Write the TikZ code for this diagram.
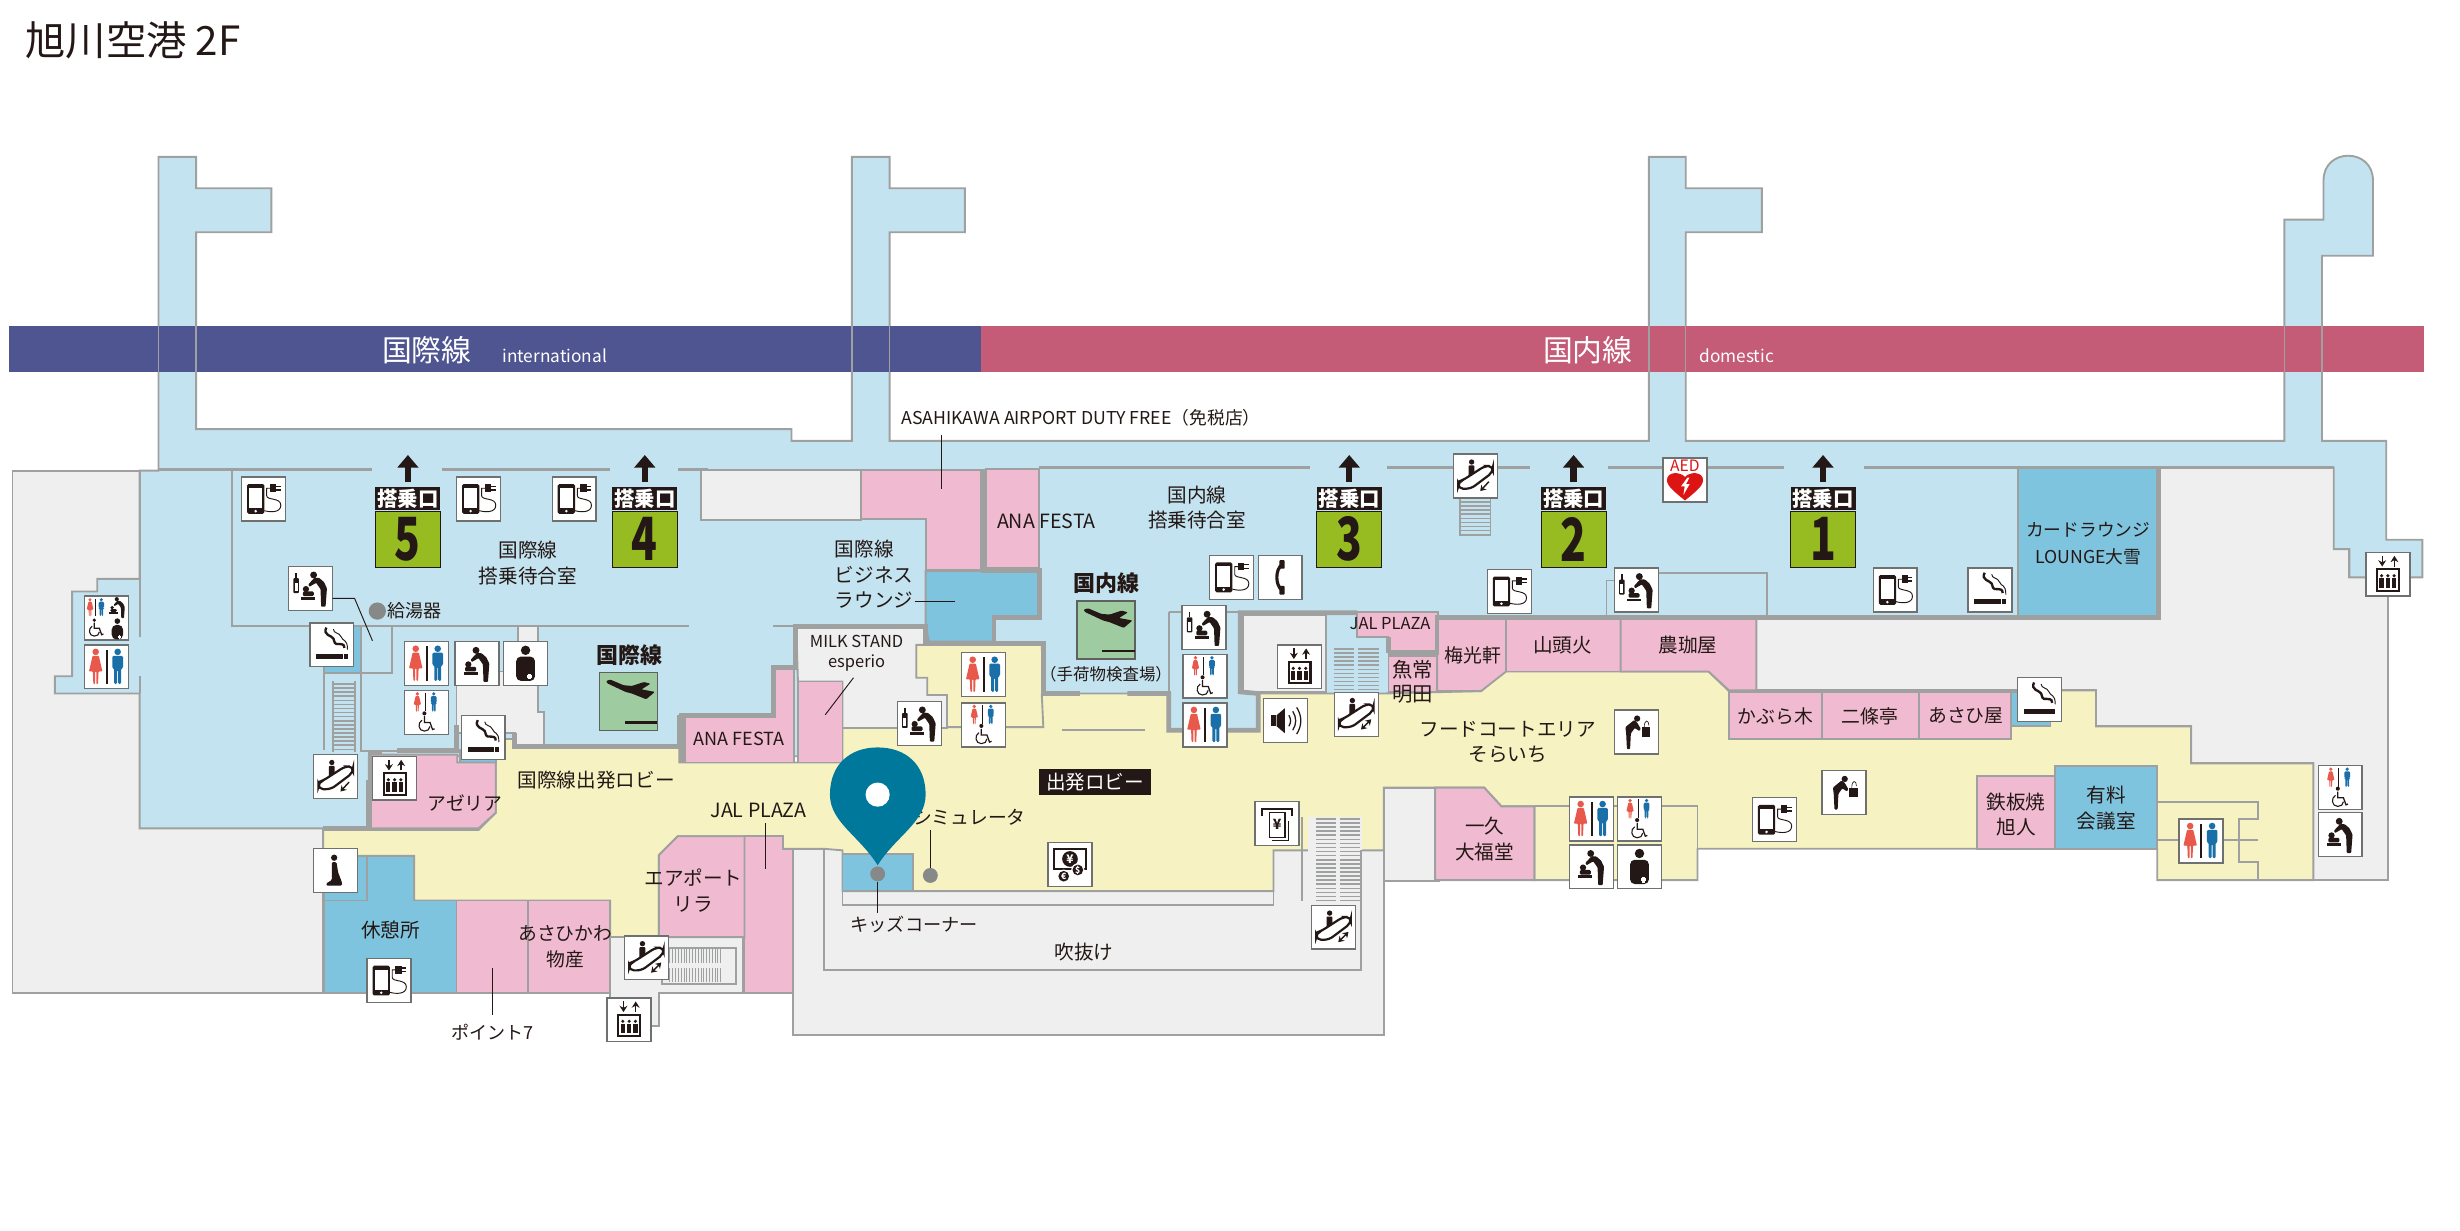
\documentclass[tikz,border=0pt]{standalone}
\usepackage{fontspec}
\setmainfont{Noto Sans CJK JP}
\usetikzlibrary{arrows.meta,positioning}

\definecolor{ink}{HTML}{231815}
\definecolor{wallgray}{HTML}{9FA0A0}
\definecolor{hallblue}{HTML}{C4E3F0}
\definecolor{loungeblue}{HTML}{7FC4DE}
\definecolor{shoppink}{HTML}{F0BBD0}
\definecolor{lobbyyellow}{HTML}{F7F2C2}
\definecolor{voidgray}{HTML}{EFEFEF}
\definecolor{intlnavy}{HTML}{4F5590}
\definecolor{domrose}{HTML}{C45C77}
\definecolor{gategreen}{HTML}{96BC22}
\definecolor{planegreen}{HTML}{9FCBA1}
\definecolor{pinteal}{HTML}{00789C}
\definecolor{wcred}{HTML}{E8594C}
\definecolor{wcblue}{HTML}{1A6FA8}
\definecolor{aedred}{HTML}{DC1414}

\newcommand{\stairsh}[4]{%
	\pgfmathsetmacro{\stepnext}{#2+2.6}
	\foreach \s in {#2,\stepnext,...,#4}
	\draw[rung] (#1,\s) -- (#3,\s);
}
\newcommand{\stairsv}[4]{%
	\pgfmathsetmacro{\stepnext}{#1+1.8}
	\foreach \s in {#1,\stepnext,...,#3}
	\draw[thinrung] (\s,#2) -- (\s,#4);
}

\tikzset{
	room/.style={draw=wallgray,line width=1.2pt,line join=miter},
	wallthin/.style={draw=wallgray,line width=1.2pt},
	wallthick/.style={draw=wallgray,line width=3pt},
	wallmid/.style={draw=wallgray,line width=2pt},
	leader/.style={draw=ink,line width=.6pt},
	rung/.style={draw=wallgray,line width=1pt},
	thinrung/.style={draw=wallgray,line width=.6pt},
	lbl/.style={font=\fontsize{12.5}{16.5}\selectfont,align=center,inner sep=0pt,text=ink},
	lblsmall/.style={lbl,font=\fontsize{11}{13}\selectfont},
	bandlbl/.style={lbl,font=\fontsize{19}{20}\selectfont,text=white},
	bandsub/.style={lbl,font=\fontsize{11}{12}\selectfont,text=white,anchor=west},
	iconbox/.style={draw=wallgray!70!black,line width=.9pt,fill=white,minimum width=28pt,minimum height=28pt,inner sep=0pt},
	gatehead/.style={fill=ink,text=white,minimum width=41.5pt,minimum height=15pt,inner sep=0pt,font=\fontsize{13}{13}\selectfont\bfseries},
	gatebody/.style={fill=gategreen,draw=ink,line width=.5pt,text=ink,minimum width=41.5pt,minimum height=36pt,inner sep=0pt,font=\fontsize{33}{33}\selectfont\bfseries},
	gatearrow/.style={line width=4pt,ink,-{Triangle[length=8pt,width=13pt]}},
	planebox/.style={fill=planegreen,draw=wallgray!60!black,line width=.8pt,minimum width=37pt,minimum height=37pt,inner sep=0pt},
	% figures
	manfig/.pic={
		\fill (0,-9.5) circle[radius=2.1];
		\fill[rounded corners=.8] (-3.4,-7) -- (3.4,-7) -- (3.4,1) -- (2.2,1) -- (2.2,11) -- (.3,11) -- (.3,2) -- (-.3,2) -- (-.3,11) -- (-2.2,11) -- (-2.2,1) -- (-3.4,1) -- cycle;
	},
	womanfig/.pic={
		\fill (0,-9.5) circle[radius=2.1];
		\fill[rounded corners=.5] (-2,-7) -- (2,-7) -- (4.3,3) -- (1.8,3) -- (1.5,11) -- (.4,11) -- (.4,3) -- (-.4,3) -- (-.4,11) -- (-1.5,11) -- (-1.8,3) -- (-4.3,3) -- cycle;
	},
	wheelfig/.pic={
		\fill[ink] (-1,-5.8) circle[radius=1.3];
		\draw[ink,line width=.8pt] (-1,-4) -- (-1,0) -- (2.6,0) -- (4.2,4.5) -- (5.5,4);
		\draw[ink,line width=.7pt] (-2.5,-1.5) .. controls (-5.5,0) and (-5,5.5) .. (-1,5.5) .. controls (1,5.5) and (2.3,4.5) .. (2.6,2.5);
	},
	babyfig/.pic={
		\fill[ink] (-.6,-8.5) circle[radius=2.2];
		\fill[ink,rounded corners=.5] (0,-6.8) -- (-4,-2.5) -- (-3.3,-1) -- (1,-3.5) -- (3.8,.5) -- (4.2,11.7) -- (7,11.7) -- (7.9,0) -- (6,-4) -- (3,-6.6) -- cycle;
		\fill[ink] (-5.5,.5) circle[radius=2];
		\fill[ink,rounded corners=.8] (-7.5,2) rectangle (-.5,5);
		\fill[ink] (-8.5,5.5) rectangle (.5,7.2);
	},
	nursefig/.pic={
		\fill[ink] (0,-8.5) circle[radius=3];
		\fill[ink,rounded corners=3] (-6,11) -- (-6,-4.5) -- (6,-4.5) -- (6,11) -- cycle;
		\fill[white] (1.7,6.3) rectangle (3.3,10);
		\fill[white] (.7,7.4) rectangle (4.3,8.9);
	},
	% icons
	chargeicon/.pic={
		\node[iconbox] (-box) at (0,0) {};
		\fill[ink,rounded corners=1] (-10.5,-9.5) rectangle (.5,9.5);
		\fill[white] (-9.2,-7) rectangle (-.8,6);
		\fill[white] (-5,7.8) circle[radius=.9];
		\fill[ink] (4,-9.2) rectangle (8,-4.4);
		\fill[ink] (8,-8.4) rectangle (11,-7.6);
		\fill[ink] (8,-6) rectangle (11,-5.2);
		\draw[ink,line width=.6pt] (4.5,-6.8) -- (2,-6.8) -- (2,-2) .. controls (2,1) and (11,-1) .. (11,4) .. controls (11,9) and (4,8.5) .. (.5,7.5);
	},
	babyicon/.pic={
		\node[iconbox] (-box) at (0,0) {};
		\pic at (0,0) {babyfig};
	},
	bottleicon/.pic={
		\node[iconbox] (-box) at (0,0) {};
		\pic at (2.5,0) {babyfig};
		\fill[ink,rounded corners=.5] (-11,-6.5) rectangle (-7.5,3);
		\fill[white] (-10.2,-3.5) rectangle (-8.3,2);
		\fill[ink] (-9.8,-10) rectangle (-8.7,-6.5);
	},
	smokeicon/.pic={
		\node[iconbox] (-box) at (0,0) {};
		\fill[ink] (-10,6) rectangle (7,9.2);
		\fill[ink] (7.6,6) rectangle (10,9.2);
		\draw[ink,line width=1.5pt] (-3.5,-11) .. controls (-6,-6) and (0,-6) .. (1,-4) .. controls (2,-2) and (1,0) .. (5,-.5) .. controls (8,-.5) and (8,1) .. (8,2);
		\draw[ink,line width=.6pt] (1,-10) .. controls (1,-7) and (5,-8) .. (6,-5) .. controls (7,-2) and (10,-4) .. (10,3);
	},
	wcicon/.pic={
		\node[iconbox] (-box) at (0,0) {};
		\pic[wcred] at (-7,0) {womanfig};
		\pic[wcblue] at (7,0) {manfig};
		\fill[ink] (-.7,-11) rectangle (.7,11);
	},
	wheelwcicon/.pic={
		\node[iconbox] (-box) at (0,0) {};
		\pic[wcred,scale=.55] at (-6,-6.5) {womanfig};
		\pic[wcblue,scale=.55] at (4.5,-6.5) {manfig};
		\fill[ink] (-1.2,-12.5) rectangle (-.6,-.5);
		\pic at (-.5,6.5) {wheelfig};
	},
	comboicon/.pic={
		\node[iconbox] (-box) at (0,0) {};
		\pic[wcred,scale=.5] at (-10.6,-7) {womanfig};
		\pic[wcblue,scale=.5] at (-3.4,-7) {manfig};
		\fill[ink] (-7.3,-12.5) rectangle (-6.7,-1.5);
		\pic[scale=.6] at (6.8,-7) {babyfig};
		\pic[scale=.9] at (-7,6.5) {wheelfig};
		\pic[scale=.6] at (6.8,7) {nursefig};
	},
	nurseicon/.pic={
		\node[iconbox] (-box) at (0,0) {};
		\pic at (0,0) {nursefig};
	},
	escfig/.pic={
		\fill[ink] (-2.5,-9) circle[radius=1.7];
		\fill[ink,rounded corners=.5] (-4.4,-6.8) -- (-.7,-6.8) -- (-.7,-2) -- (-4.4,.3) -- cycle;
		\draw[ink,line width=1.4pt,rounded corners=3] (-8,2.5) -- (6,-6.5) -- (11,-6.5) -- (11,-2.5) -- (-3,8) -- (-11,8) -- (-11,3.5) -- cycle;
	},
	escdownicon/.pic={
		\node[iconbox] (-box) at (0,0) {};
		\pic at (0,0) {escfig};
		\draw[ink,line width=.9pt,-{Stealth[length=3.5pt,width=4.5pt]}] (8.5,3.5) -- (3,9.5);
	},
	escbothicon/.pic={
		\node[iconbox] (-box) at (0,0) {};
		\pic at (0,0) {escfig};
		\draw[ink,line width=.9pt,{Stealth[length=3.5pt,width=4.5pt]}-{Stealth[length=3.5pt,width=4.5pt]}] (9.5,3) -- (3,9.5);
	},
	lifticon/.pic={
		\node[iconbox] (-box) at (0,0) {};
		\draw[ink,line width=.9pt,-{Stealth[length=4pt,width=5pt]}] (-3.6,-11.7) -- (-3.6,-4.9);
		\draw[ink,line width=.9pt,-{Stealth[length=4pt,width=5pt]}] (4.2,-4.9) -- (4.2,-11.7);
		\draw[ink,line width=1.3pt] (-7,-3.2) rectangle (7,10.6);
		\foreach \p in {-4,0,4} {
			\fill[ink] (\p,1) circle[radius=1.1];
			\fill[ink] (\p-1.4,2.4) rectangle (\p+1.4,8.5);
		}
	},
	prayicon/.pic={
		\node[iconbox] (-box) at (0,0) {};
		\fill[ink] (-1,-8.3) circle[radius=2];
		\fill[ink,rounded corners=.8] (-2.5,-5.5) -- (.5,-5.5) -- (1.5,1) -- (4,7.5) -- (4,9.5) -- (-6,9.5) -- (-6,8) -- (-2.5,6) -- (-2.5,1) -- cycle;
	},
	phoneicon/.pic={
		\node[iconbox] (-box) at (0,0) {};
		\draw[ink,line width=2pt] (1,-8) .. controls (-3.2,-5) and (-3.2,5) .. (1,8);
		\fill[ink,rounded corners=.5] (-.5,-11) rectangle (2.8,-5.5);
		\fill[ink,rounded corners=.5] (-.5,5.5) rectangle (2.8,11);
	},
	speakericon/.pic={
		\node[iconbox] (-box) at (0,0) {};
		\fill[ink] (-9.5,-3.5) rectangle (-6.5,3.5);
		\fill[ink] (-5.8,-3.5) -- (-.5,-8) -- (-.5,8) -- (-5.8,3.5) -- cycle;
		\draw[ink,line width=.8pt] (2,-3.5) .. controls (3.5,-1) and (3.5,1) .. (2,3.5);
		\draw[ink,line width=.8pt] (4.5,-6) .. controls (7,-2) and (7,2) .. (4.5,6);
		\draw[ink,line width=.8pt] (7,-8.5) .. controls (10.5,-3) and (10.5,3) .. (7,8.5);
	},
	atmicon/.pic={
		\node[iconbox] (-box) at (0,0) {};
		\draw[ink,line width=1.4pt] (-9.5,-5) -- (-9.5,-9.5) -- (9.5,-9.5) -- (9.5,-5);
		\draw[ink,line width=.9pt,fill=white] (-5,-7) rectangle (5,9);
		\draw[ink,line width=.7pt] (-3.5,11) -- (7,11) -- (7,-2);
		\node[inner sep=0pt,font=\fontsize{9}{9}\selectfont\bfseries,text=ink] (-yen) at (0,0.5) {¥};
	},
	exchangeicon/.pic={
		\node[iconbox] (-box) at (0,0) {};
		\draw[ink,line width=1.1pt] (-10,-10) rectangle (10,3);
		\fill[ink] (0,-3.5) circle[radius=5];
		\node[inner sep=0pt,font=\fontsize{7.5}{7.5}\selectfont\bfseries,text=white] (-yen) at (0,-3.5) {¥};
		\fill[white] (5,3.5) circle[radius=4.2];
		\fill[ink] (5,3.5) circle[radius=3.4];
		\node[inner sep=0pt,font=\fontsize{5.5}{5.5}\selectfont\bfseries,text=white] (-usd) at (5,3.5) {\$};
		\fill[white] (-4,7.5) circle[radius=4.2];
		\fill[ink] (-4,7.5) circle[radius=3.4];
		\node[inner sep=0pt,font=\fontsize{5.5}{5.5}\selectfont\bfseries,text=white] (-eur) at (-4,7.5) {€};
	},
	fountainicon/.pic={
		\node[iconbox] (-box) at (0,0) {};
		\fill[ink] (.5,-8.5) circle[radius=2];
		\fill[ink,rounded corners=.6] (-1.5,-7.5) -- (-7,-3) -- (-6.5,1) -- (-6,11) -- (-4,11) -- (-3.5,1) -- (-1,-2.5) -- (2,-.5) -- (2.8,-2) -- (.5,-6) -- cycle;
		\fill[ink] (3.5,-3) rectangle (9,3);
		\draw[ink,line width=.4pt] (5,-3) .. controls (5,-8) and (8,-8) .. (8,-4);
	},
	aedicon/.pic={
		\node[iconbox] (-box) at (0,0) {};
		\node[inner sep=0pt,font=\fontsize{10}{10}\selectfont,text=aedred] (-txt) at (0,-9) {AED};
		\fill[aedred] (0,13) .. controls (-6,8) and (-11.5,4) .. (-11.5,0) .. controls (-11.5,-5.5) and (-3,-5.5) .. (0,-2) .. controls (3,-5.5) and (11.5,-5.5) .. (11.5,0) .. controls (11.5,4) and (6,8) .. (0,13) -- cycle;
		\fill[white] (1.5,-1.5) -- (-2.5,4) -- (-.2,4) -- (-1,9.5) -- (3,2.5) -- (.7,2.5) -- (2.8,-1.5) -- cycle;
	},
	planefig/.pic={
		\fill[ink,rounded corners=.6] (-14.2,-13) -- (-11.5,-13.8) -- (-3,-10.2) -- (2.3,-9.8) -- (9.8,-12.3) -- (14,-11.2) -- (8.3,-7.6) -- (16.8,-6) -- (11.3,-1.3) -- (2.3,-4.9) -- (-1.9,-6) -- (-13.6,-11.5) -- cycle;
		\fill[ink] (-2.3,12.6) rectangle (18.3,14.2);
	}
}

\begin{document}
\begin{tikzpicture}[x=1pt,y=-1pt]
	\useasboundingbox (0,0) rectangle (1568,784);

	% title
	\node[lbl,font=\fontsize{25.7}{26}\selectfont,anchor=west] (title) at (16,26) {旭川空港 2F};

	% outer grey parts of the building
	\draw[room,fill=voidgray] (8,300) -- (89,300) -- (89,528) -- (206,528) -- (206,633) -- (8,633) -- cycle;
	\draw[room,fill=voidgray] (505.5,541) -- (882,541) -- (882,659.5) -- (505.5,659.5) -- cycle;
	\draw[room,fill=voidgray] (1376,298) -- (1487.5,298) -- (1487.5,350) -- (1497.5,350) -- (1497.5,368) -- (1522,368) -- (1522,561) -- (1474.5,561) -- (1474.5,486.6) -- (1396.6,486.6) -- (1396.6,463) -- (1336,463) -- (1336,440) -- (1119.5,440) -- (1119.5,393) -- (1376,393) -- cycle;

	% concourse with the four piers
	\draw[room,fill=hallblue] (101,100) -- (125,100) -- (125,120) -- (173,120) -- (173,148) -- (125,148) -- (125,273.5) -- (504.5,273.5) -- (504.5,281) -- (543,281) -- (543,100) -- (567,100) -- (567,120) -- (615,120) -- (615,148) -- (567,148) -- (567,281) -- (1051,281) -- (1051,100) -- (1074.5,100) -- (1074.5,120) -- (1123,120) -- (1123,148) -- (1074.5,148) -- (1074.5,281) -- (1456,281) -- (1456,140) -- (1481,140) -- (1481,115) .. controls (1481,94) and (1512.5,94) .. (1512.5,115) -- (1512.5,163) -- (1480,163) -- (1480,281) -- (1521,281) -- (1521,344) -- (1544,344) -- (1544,368) -- (1497.5,368) -- (1497.5,350) -- (1487.5,350) -- (1487.5,298) -- (1376,298) -- (1376,393) -- (916,393) -- (916,482) -- (235,482) -- (235,528) -- (89,528) -- (89,442) -- (35,442) -- (35,431) -- (46,431) -- (46,377) -- (62,377) -- (62,369) -- (89,369) -- (89,300) -- (101,300) -- cycle;

	% bands
	\fill[intlnavy] (6,208) rectangle (625,237);
	\fill[domrose] (625,208) rectangle (1545,237);
	\foreach \x in {101,125,543,567,1051,1074.5,1456,1480}
	\draw[wallthin,line width=.8pt] (\x,208) -- (\x,237);
	\node[bandlbl] (intlband) at (272,223) {国際線};
	\node[bandsub] (intlsub) at (320,226.5) {international};
	\node[bandlbl] (domband) at (1012,223) {国内線};
	\node[bandsub] (domsub) at (1083,226.5) {domestic};

	% lobby
	\draw[room,fill=lobbyyellow] (206,529) -- (305,529) -- (316,518) -- (316,471) -- (327,471) -- (327,476) -- (433,476) -- (433,486) -- (537,486) -- (537,464) -- (584,464) -- (584,411) -- (664,411) -- (665,442) -- (745,442) -- (745,465.5) -- (802,465.5) -- (802,442) -- (883,442) -- (944,440.5) -- (959,428) -- (1089,428) -- (1102,440.5) -- (1336,440) -- (1336,463) -- (1396.6,463) -- (1396.6,486.6) -- (1474.5,486.6) -- (1474.5,561) -- (1375,561) -- (1375,541) -- (1082,541) -- (1082,561) -- (978,561) -- (978,514) -- (957,514) -- (946,502) -- (882,502) -- (882,542) -- (811.7,542) -- (811.7,568) -- (537,568) -- (537,542) -- (525,541) -- (499,541) -- (499,533) -- (432,533) -- (420,545) -- (420,597.3) -- (389,597.3) -- (389,574) -- (264,574) -- (264,545.5) -- (206,545.5) -- cycle;
	\draw[room,fill=lobbyyellow] (235,480) rectangle (243,497);

	% grey rooms
	\draw[room,fill=voidgray] (882,502) rectangle (917,561.5);
	\draw[room,fill=voidgray] (792,392) rectangle (845,441);
	\draw[room,fill=voidgray] (330,399) -- (343,399) -- (343,454) -- (347,454) -- (347,476) -- (328,476) -- (328,467) -- (291,467) -- (291,428) -- (330,428) -- cycle;
	\draw[room,fill=voidgray] (507.5,399) -- (590,399) -- (590,411) -- (584,411) -- (584,432) -- (591,432) -- (591,443) -- (603.6,443) -- (603.6,464) -- (537,464) -- (537,434.4) -- (508.6,434.4) -- cycle;
	\draw[room,fill=voidgray] (447,299.5) rectangle (549,331.4);
	\draw[room,fill=voidgray] (389,597.3) -- (473.5,597.3) -- (473.5,633) -- (420,633) -- (420,654) -- (389,654) -- cycle;
	\fill[voidgray] (834,521) rectangle (868,577);

	% lounges
	\draw[room,fill=loungeblue] (1286,298) rectangle (1376,393);
	\draw[room,fill=loungeblue] (590,364) -- (662,364) -- (662,393) -- (633.5,393) -- (633.5,409) -- (592,409) -- (590,398) -- cycle;
	\draw[room,fill=loungeblue] (537,544.4) rectangle (582,568);
	\draw[room,fill=loungeblue] (206.5,545.5) -- (264,545.5) -- (264,574) -- (291,574) -- (291,633) -- (206.5,633) -- cycle;
	\draw[room,fill=loungeblue] (1310,488) rectangle (1375,541);
	\draw[room,fill=loungeblue] (1282,441) rectangle (1307,463);
	\draw[room,fill=loungeblue] (293,478) rectangle (316,486);
	\draw[room,fill=loungeblue] (206.5,399) rectangle (230,429);
	\draw[wallthin] (234,545.5) -- (234,574) -- (206.5,574);

	% shops
	\draw[room,fill=shoppink] (548.6,299.4) -- (625,299.4) -- (625,363) -- (590,363) -- (590,331) -- (548.6,331) -- cycle;
	\draw[room,fill=shoppink] (628.5,299) rectangle (662.5,362);
	\draw[room,fill=shoppink] (436.6,457) -- (493,457) -- (493,426.6) -- (506,426.6) -- (506,486) -- (436.6,486) -- cycle;
	\draw[room,fill=shoppink] (508.6,434.4) rectangle (537,486);
	\draw[room,fill=shoppink] (236.5,481) -- (291.5,481) -- (291.5,486) -- (316,486) -- (316,518) -- (305,528) -- (236.5,528) -- cycle;
	\draw[room,fill=shoppink] (474.5,533) -- (499,533) -- (499,541) -- (505.5,541) -- (505.5,633) -- (474.5,633) -- cycle;
	\draw[room,fill=shoppink] (420,545) -- (432,533) -- (474.5,533) -- (474.5,597.3) -- (420,597.3) -- cycle;
	\draw[room,fill=shoppink] (291,574) rectangle (336.5,633);
	\draw[room,fill=shoppink] (336.5,574) rectangle (389,633);
	\draw[room,fill=shoppink] (865,390) -- (916.6,390) -- (916.6,415) -- (885,415) -- (885,406) -- (865,406) -- cycle;
	\draw[room,fill=shoppink] (885,418) rectangle (916,441);
	\draw[room,fill=shoppink] (916,394) -- (960,394) -- (960,428) -- (944,440.5) -- (916,440.5) -- cycle;
	\draw[room,fill=shoppink] (960,394) rectangle (1033,428);
	\draw[room,fill=shoppink] (1033,394) -- (1119.5,394) -- (1119.5,440) -- (1102,440) -- (1089,428) -- (1033,428) -- cycle;
	\draw[room,fill=shoppink] (1102,441) rectangle (1161.5,471);
	\draw[room,fill=shoppink] (1161.5,441) rectangle (1223.4,471);
	\draw[room,fill=shoppink] (1223.4,441) rectangle (1282,471);
	\draw[room,fill=shoppink] (914.7,502) -- (946,502) -- (957,514) -- (978,514) -- (978,561) -- (914.7,561) -- cycle;
	\draw[room,fill=shoppink] (1260,494.5) rectangle (1310,541);

	% void lines
	\draw[wallthin] (525,541) -- (525,618) -- (867.6,618) -- (867.6,542);
	\draw[wallthin] (537,568) -- (537,577) -- (811.7,577) -- (811.7,542);
	\draw[wallthin] (830,521) -- (830,574);

	% thin walls
	\draw[wallmid] (101,299) -- (237,299);
	\draw[wallmid] (282,299) -- (389,299);
	\draw[wallmid] (432,299) -- (451,299);
	\draw[wallmid] (662,298) -- (835,298);
	\draw[wallmid] (884,298) -- (975,298);
	\draw[wallmid] (1025,298) -- (1137,298);
	\draw[wallmid] (1188,298) -- (1487.5,298);
	\draw[wallthin] (89,300) -- (89,406);
	\draw[wallthin] (89,431) -- (89,442);
	\draw[wallthin] (148,299.5) -- (148,398.8) -- (439,398.8);
	\draw[wallthin] (493,398.8) -- (507,398.8);
	\draw[wallthin] (230,399) -- (250,399) -- (250,429) -- (206.5,429) -- (206.5,478);
	\draw[wallthin] (230,429) -- (230,478.5) -- (253,478.5);
	\draw[wallthin] (745,390) -- (745,442);
	\draw[wallthin] (745,390) -- (790,390);
	\draw[wallthin] (1024,392) -- (1024,370) -- (1030,370);
	\draw[wallthin] (1057,365.4) -- (1126,365.4) -- (1126,392);
	\draw[wallthin] (677,465.5) -- (730,465.5);
	\draw[wallthin] (664,442) -- (665,463.5) -- (603.6,463.5);
	\draw[wallthin] (978,514) -- (1082,514) -- (1082,541);
	\draw[wallthin] (1375,511) -- (1439,511) -- (1439,522) -- (1427,522) -- (1427,549.4) -- (1439,549.4) -- (1439,561);
	\draw[wallthin] (1375,535.5) -- (1389,535.5);
	\draw[wallthin] (1417,535.5) -- (1439,535.5);

	% thick walls
	\draw[wallthick] (434.6,486) -- (434.6,456) -- (493,456) -- (493,425.5) -- (507,425.5) -- (507,399.5) -- (590,399.5) -- (590,410) -- (633.5,410) -- (633.5,393.5) -- (662.5,393.5) -- (662.5,363.5) -- (627,363.5) -- (627,299);
	\draw[wallthick] (633.5,410) -- (665,410) -- (665,442) -- (688.5,442);
	\draw[wallthick] (718.5,442) -- (745,442) -- (745,465.5) -- (802,465.5) -- (802,442) -- (790.5,441) -- (790.5,390.5) -- (865,390.5);
	\draw[wallthick] (885,416) -- (916,416) -- (916,393.5) -- (1376,393.5) -- (1376,298);
	\draw[wallthick] (885,406) -- (885,416);
	\draw[wallthick] (291,462) -- (291,478.5) -- (253,478.5);
	\draw[wallthick] (235,497) -- (235,528) -- (206,528);
	\draw[wallthick] (328,467) -- (328,476) -- (433,476) -- (433,456);

	% stairs
	\draw[wallthin] (212,434) -- (212,479);
	\draw[wallthin] (226,434) -- (226,479);
	\stairsh{212}{436}{226}{479}
	\draw[wallthin] (930.6,317) rectangle (950,341);
	\stairsh{930.6}{320}{950}{341}
	\stairsh{850}{413.6}{863.3}{441}
	\stairsh{865.6}{413.6}{879}{441}
	\stairsh{839}{522}{851.6}{574.5}
	\stairsh{854}{522}{866.6}{574.5}
	\draw[wallthin] (422,604) rectangle (469,627);
	\stairsv{427}{605}{460}{613.6}
	\stairsv{427}{617.3}{460}{626}

	% gates
	\foreach \n/\x in {5/260,4/411,3/860,2/1003,1/1162} {
		\node[gatehead] (head\n) at (\x,317.8) {搭乗口};
		\node[gatebody,below=0pt of head\n] (gate\n) {\scalebox{.82}[1.15]{\n}};
		\coordinate (arrowfrom\n) at (\x,307);
		\coordinate (arrowto\n) at (\x,290);
		\draw[gatearrow] (arrowfrom\n) -- (arrowto\n);
	}

	% plane signs
	\node[planebox] (intlplane) at (400.6,447) {};
	\pic at (intlplane) {planefig};
	\node[planebox] (domplane) at (705,401.5) {};
	\pic at (domplane) {planefig};

	% icons
	\foreach \n/\x/\y in {1/168/318,2/305/318,3/366/318,4/785/368,5/962/377,6/1208/376,7/1131/522.5,8/248/625}
	\pic (chg\n) at (\x,\y) {chargeicon};
	\foreach \n/\x/\y in {1/198/375,2/586/461,3/767.5/400,4/1043/376}
	\pic (bottle\n) at (\x,\y) {bottleicon};
	\foreach \n/\x/\y in {1/304/423,2/1014.5/552.5,3/1491.6/532}
	\pic (baby\n) at (\x,\y) {babyicon};
	\foreach \n/\x/\y in {1/211.5/411,2/308/470,3/1268.5/376,4/1300/446}
	\pic (smoke\n) at (\x,\y) {smokeicon};
	\foreach \n/\x/\y in {1/272/423,2/627/430,3/768/462,4/1014.5/522,5/1403/536,6/68/425}
	\pic (wc\n) at (\x,\y) {wcicon};
	\foreach \n/\x/\y in {1/272/454,2/627/462,3/768/431,4/1045/522,5/1491.6/502}
	\pic (wheelwc\n) at (\x,\y) {wheelwcicon};
	\foreach \n/\x/\y in {1/335/423,2/1045/552.5}
	\pic (nurse\n) at (\x,\y) {nurseicon};
	\foreach \n/\x/\y in {1/214/495,2/940.5/303.5}
	\pic (escdown\n) at (\x,\y) {escdownicon};
	\foreach \n/\x/\y in {1/864.5/455.5,2/850/591,3/412/610.5}
	\pic (escboth\n) at (\x,\y) {escbothicon};
	\foreach \n/\x/\y in {1/251.5/496,2/828.3/425,3/401/650,4/1522/366}
	\pic (lift\n) at (\x,\y) {lifticon};
	\foreach \n/\x/\y in {1/1043/466.5,2/1175.3/505}
	\pic (fountain\n) at (\x,\y) {fountainicon};
	\pic (combo) at (68,394) {comboicon};
	\pic (pray) at (214,555) {prayicon};
	\pic (phone) at (816,368) {phoneicon};
	\pic (speaker) at (819.5,459.4) {speakericon};
	\pic (atm) at (814,525) {atmicon};
	\pic (exchange) at (682,551) {exchangeicon};
	\pic (aed) at (1074,306) {aedicon};

	% labels
	\node[lblsmall,font=\fontsize{11.3}{13}\selectfont] (dutyfree) at (689,266) {ASAHIKAWA AIRPORT DUTY FREE（免税店）};
	\node[lbl] (anaupper) at (667,332) {ANA FESTA};
	\node[lbl] (domwait) at (763,323.5) {国内線\\搭乗待合室};
	\node[lbl,align=left,anchor=west] (bizlounge) at (532,366) {国際線\\ビジネス\\ラウンジ};
	\node[lblsmall,font=\fontsize{10.5}{12.5}\selectfont] (milk) at (546,416.5) {MILK STAND\\esperio};
	\node[lbl,font=\fontsize{14}{14}\selectfont\bfseries] (domsign) at (705,371.5) {国内線};
	\node[lblsmall,font=\fontsize{10.5}{12}\selectfont] (baggage) at (705,430) {（手荷物検査場）};
	\node[lbl,font=\fontsize{14}{14}\selectfont\bfseries] (intlsign) at (401,417.5) {国際線};
	\node[lbl] (intlwait) at (336.5,359) {国際線\\搭乗待合室};
	\node[lblsmall,font=\fontsize{11.5}{13}\selectfont,anchor=west] (kettle) at (247,389.5) {給湯器};
	\node[lbl] (intllobby) at (380,497.5) {国際線出発ロビー};
	\node[lbl] (jalplaza) at (483.5,516.5) {JAL PLAZA};
	\node[lbl,font=\fontsize{12}{14}\selectfont] (azalea) at (296.5,512) {アゼリア};
	\node[lbl,font=\fontsize{11.5}{14}\selectfont] (analower) at (471,470.7) {ANA FESTA};
	\node[lbl] (lira) at (442,567.5) {エアポート\\リラ};
	\node[lbl] (rest) at (249,593) {休憩所};
	\node[lbl,font=\fontsize{12}{16.5}\selectfont] (bussan) at (360.3,603.3) {あさひかわ\\物産};
	\node[lblsmall,font=\fontsize{11.5}{13}\selectfont] (point7) at (314,658) {ポイント7};
	\node[lbl,font=\fontsize{12}{14}\selectfont,anchor=east] (simulator) at (654,521) {シミュレータ};
	\node[lblsmall,font=\fontsize{11.6}{14}\selectfont] (kids) at (582.7,589) {キッズコーナー};
	\node[lbl] (fukinuke) at (691,607) {吹抜け};
	\node[fill=ink,text=white,font=\fontsize{12.5}{14}\selectfont,minimum width=71pt,minimum height=16.6pt,inner sep=0pt] (deplobby) at (698,498.7) {出発ロビー};
	\node[lbl] (foodcourt) at (961,473) {フードコートエリア\\そらいち};
	\node[lbl,font=\fontsize{13}{15}\selectfont] (uotsune) at (900.6,434.5) {魚常\\明田};
	\node[lblsmall,font=\fontsize{10.5}{12}\selectfont] (jalupper) at (886,397.3) {JAL PLAZA};
	\node[lbl,font=\fontsize{12}{14}\selectfont] (baikoken) at (939,418) {梅光軒};
	\node[lbl] (santouka) at (996,411) {山頭火};
	\node[lbl] (noukaya) at (1076,411) {農珈屋};
	\node[lbl,font=\fontsize{12}{14}\selectfont] (kaburagi) at (1131.6,456.4) {かぶら木};
	\node[lbl,font=\fontsize{12}{14}\selectfont] (nijotei) at (1192,456.4) {二條亭};
	\node[lbl,font=\fontsize{12}{14}\selectfont] (asahiya) at (1253,456.4) {あさひ屋};
	\node[lbl] (ikkyu) at (946.3,535) {一久\\大福堂};
	\node[lbl] (teppan) at (1285,519.2) {鉄板焼\\旭人};
	\node[lbl] (meeting) at (1342.5,515) {有料\\会議室};
	\node[lbl,font=\fontsize{11.3}{17}\selectfont] (cardlounge) at (1331,346.5) {カードラウンジ\\LOUNGE大雪};

	% leader ends
	\coordinate (dutyend) at (600,312);
	\coordinate (dutytop) at (600,277);
	\coordinate (bizfrom) at (583,383.3);
	\coordinate (bizto) at (608.5,383.3);
	\coordinate (milkfrom) at (544,432);
	\coordinate (milkto) at (526,455.6);
	\coordinate (jalfrom) at (488,524.7);
	\coordinate (jalto) at (488,553.7);
	\coordinate (pointfrom) at (313.7,617.3);
	\coordinate (pointto) at (313.7,647);
	\coordinate (kettlebend) at (226,381.4);
	\coordinate (kettlefrom) at (212,381.4);
	\coordinate (kettleto) at (237.4,408.4);

	% leaders
	\foreach \from/\to in {dutytop/dutyend,bizfrom/bizto,milkfrom/milkto,jalfrom/jalto,pointfrom/pointto}
	\draw[leader] (\from) -- (\to);
	\draw[leader] (kettlefrom) -- (kettlebend) -- (kettleto);

	% dots
	\fill[wallgray!85!black] (240.5,389.5) circle[radius=5.5];
	\node[circle,fill=wallgray!85!black,minimum size=9.5pt,inner sep=0pt] (kidsdot) at (559.4,557) {};
	\node[circle,fill=wallgray!85!black,minimum size=9.5pt,inner sep=0pt] (simdot) at (593,558) {};
	\coordinate (kidsend) at (559.4,582);
	\coordinate (simend) at (593,529);
	\draw[leader] (kidsdot) -- (kidsend);
	\draw[leader] (simdot) -- (simend);

	% location pin
	\fill[pinteal] (559.4,551.5) .. controls (548,533) and (529,524) .. (529,506.5) .. controls (529,487) and (542,476.4) .. (559.4,476.4) .. controls (577,476.4) and (590,487) .. (590,506.5) .. controls (590,524) and (571,533) .. (559.4,551.5) -- cycle;
	\fill[white] (559.4,506.5) circle[radius=7.7];
\end{tikzpicture}
\end{document}
